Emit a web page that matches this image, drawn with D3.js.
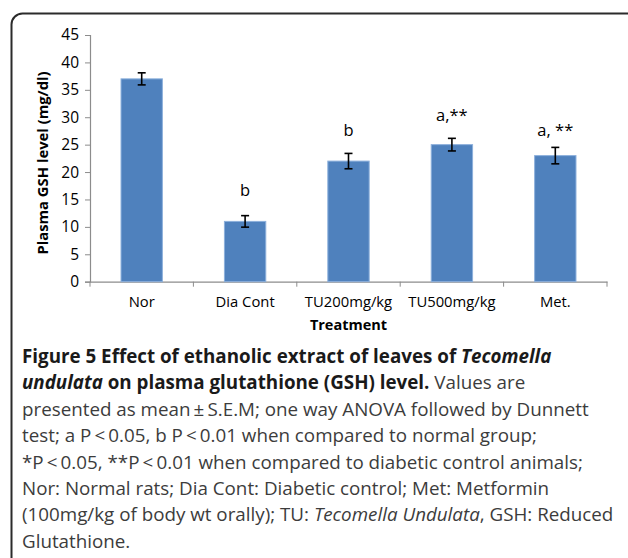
<!DOCTYPE html>
<html><head><meta charset="utf-8">
<script src="https://cdn.jsdelivr.net/npm/d3@7"></script>
<style>
html,body{margin:0;padding:0;background:#fff;}
svg{display:block;}
</style></head>
<body>
<svg id="c" width="628" height="558"></svg>
<script>
const categories = ["Nor", "Dia Cont", "TU200mg/kg", "TU500mg/kg", "Met."];
const values = [37, 11, 22, 25, 23];
const errors = [1.1, 1.05, 1.4, 1.15, 1.5];
const annotations = ["", "b", "b", "a,**", "a, **"];
const annotationLevel = [0, 15.7, 26.6, 29.4, 26.6];
const yTicks = [0, 5, 10, 15, 20, 25, 30, 35, 40, 45];
const yTitle = "Plasma GSH level (mg/dl)";
const xTitle = "Treatment";
const captionLines = [
  [["Figure 5 Effect of ethanolic extract of leaves of ", "b"], ["Tecomella", "bi"]],
  [["undulata", "bi"], [" on plasma glutathione (GSH) level.", "b"], [" Values are", "r"]],
  [["presented as mean\u2009\u00b1\u2009S.E.M; one way ANOVA followed by Dunnett", "r"]],
  [["test; a P\u2009<\u20090.05, b P\u2009<\u20090.01 when compared to normal group;", "r"]],
  [["*P\u2009<\u20090.05, **P\u2009<\u20090.01 when compared to diabetic control animals;", "r"]],
  [["Nor: Normal rats; Dia Cont: Diabetic control; Met: Metformin", "r"]],
  [["(100mg/kg of body wt orally); TU: ", "r"], ["Tecomella Undulata", "i"], [", GSH: Reduced", "r"]],
  [["Glutathione.", "r"]]
];

const svg = d3.select("#c");
const chartFont = "'Open Sans', sans-serif";

// frame
svg.append("rect").attr("x", 11.5).attr("y", 13.5).attr("width", 640).attr("height", 620)
  .attr("rx", 11).attr("fill", "none").attr("stroke", "#2b2b2b").attr("stroke-width", 2);

const x0 = 90, x1 = 607, yTop = 35, yBot = 281.7;
const x = d3.scaleBand().domain(categories).range([x0, x1]).paddingInner(0.6).paddingOuter(0.3);
const y = d3.scaleLinear().domain([0, 45]).range([yBot, yTop]);

// y axis
const ya = svg.append("g").attr("transform", `translate(${x0},0)`)
  .call(d3.axisLeft(y).tickValues(yTicks).tickSize(5).tickPadding(6));
ya.select(".domain").attr("stroke", "#8c8c8c").attr("stroke-width", 1.2);
ya.selectAll(".tick line").attr("stroke", "#8c8c8c");
ya.selectAll(".tick text").attr("font-family", chartFont).attr("font-size", 15.5).attr("fill", "#000");

// x axis
const xa = svg.append("g").attr("transform", `translate(0,${yBot})`)
  .call(d3.axisBottom(x).tickSize(0).tickPadding(15));
xa.select(".domain").attr("stroke", "#8c8c8c").attr("stroke-width", 1.2);
xa.selectAll(".tick text").attr("font-family", chartFont).attr("font-size", 14.8).attr("fill", "#000");
const step = x.step();
xa.selectAll(".bnd").data(d3.range(categories.length + 1)).enter().append("line")
  .attr("x1", i => x0 + i * step).attr("x2", i => x0 + i * step)
  .attr("y1", 0).attr("y2", 5).attr("stroke", "#8c8c8c");

// bars
svg.selectAll(".bar").data(categories).enter().append("rect")
  .attr("x", d => x(d)).attr("width", x.bandwidth())
  .attr("y", (d, i) => y(values[i])).attr("height", (d, i) => y(0) - y(values[i]))
  .attr("fill", "#4f81bd").attr("stroke", "#8db0dc").attr("stroke-width", 1);

// error bars
const eb = svg.selectAll(".eb").data(categories).enter().append("g")
  .attr("stroke", "#000").attr("stroke-width", 1.6);
eb.append("line").attr("x1", d => x(d) + x.bandwidth() / 2).attr("x2", d => x(d) + x.bandwidth() / 2)
  .attr("y1", (d, i) => y(values[i] + errors[i])).attr("y2", (d, i) => y(values[i] - errors[i]));
eb.append("line").attr("x1", d => x(d) + x.bandwidth() / 2 - 4).attr("x2", d => x(d) + x.bandwidth() / 2 + 4)
  .attr("y1", (d, i) => y(values[i] + errors[i])).attr("y2", (d, i) => y(values[i] + errors[i]));
eb.append("line").attr("x1", d => x(d) + x.bandwidth() / 2 - 4).attr("x2", d => x(d) + x.bandwidth() / 2 + 4)
  .attr("y1", (d, i) => y(values[i] - errors[i])).attr("y2", (d, i) => y(values[i] - errors[i]));

// annotations
svg.selectAll(".ann").data(categories).enter().append("text")
  .attr("x", d => x(d) + x.bandwidth() / 2).attr("y", (d, i) => y(annotationLevel[i]))
  .attr("text-anchor", "middle").attr("font-family", chartFont).attr("font-size", 16.5)
  .text((d, i) => annotations[i]);

// axis titles
svg.append("text").attr("transform", `translate(48,163) rotate(-90)`)
  .attr("text-anchor", "middle").attr("font-family", chartFont).attr("font-weight", "bold")
  .attr("font-size", 14.8).text(yTitle);
svg.append("text").attr("x", (x0 + x1) / 2).attr("y", 330)
  .attr("text-anchor", "middle").attr("font-family", chartFont).attr("font-weight", "bold")
  .attr("font-size", 14.5).text(xTitle);

// caption
const capFont = "'Open Sans', sans-serif";
const cap = svg.append("g");
captionLines.forEach((line, li) => {
  const t = cap.append("text").attr("x", 22).attr("y", 363 + li * 26.4)
    .attr("font-family", capFont).attr("font-size", 18.8);
  line.forEach(([s, st]) => {
    t.append("tspan").text(s)
      .attr("font-weight", st.includes("b") ? "bold" : "normal")
      .attr("font-style", st.includes("i") ? "italic" : "normal")
      .attr("fill", st.includes("b") ? "#1a1a1a" : "#3c3c3c");
  });
});
</script>
</body></html>
